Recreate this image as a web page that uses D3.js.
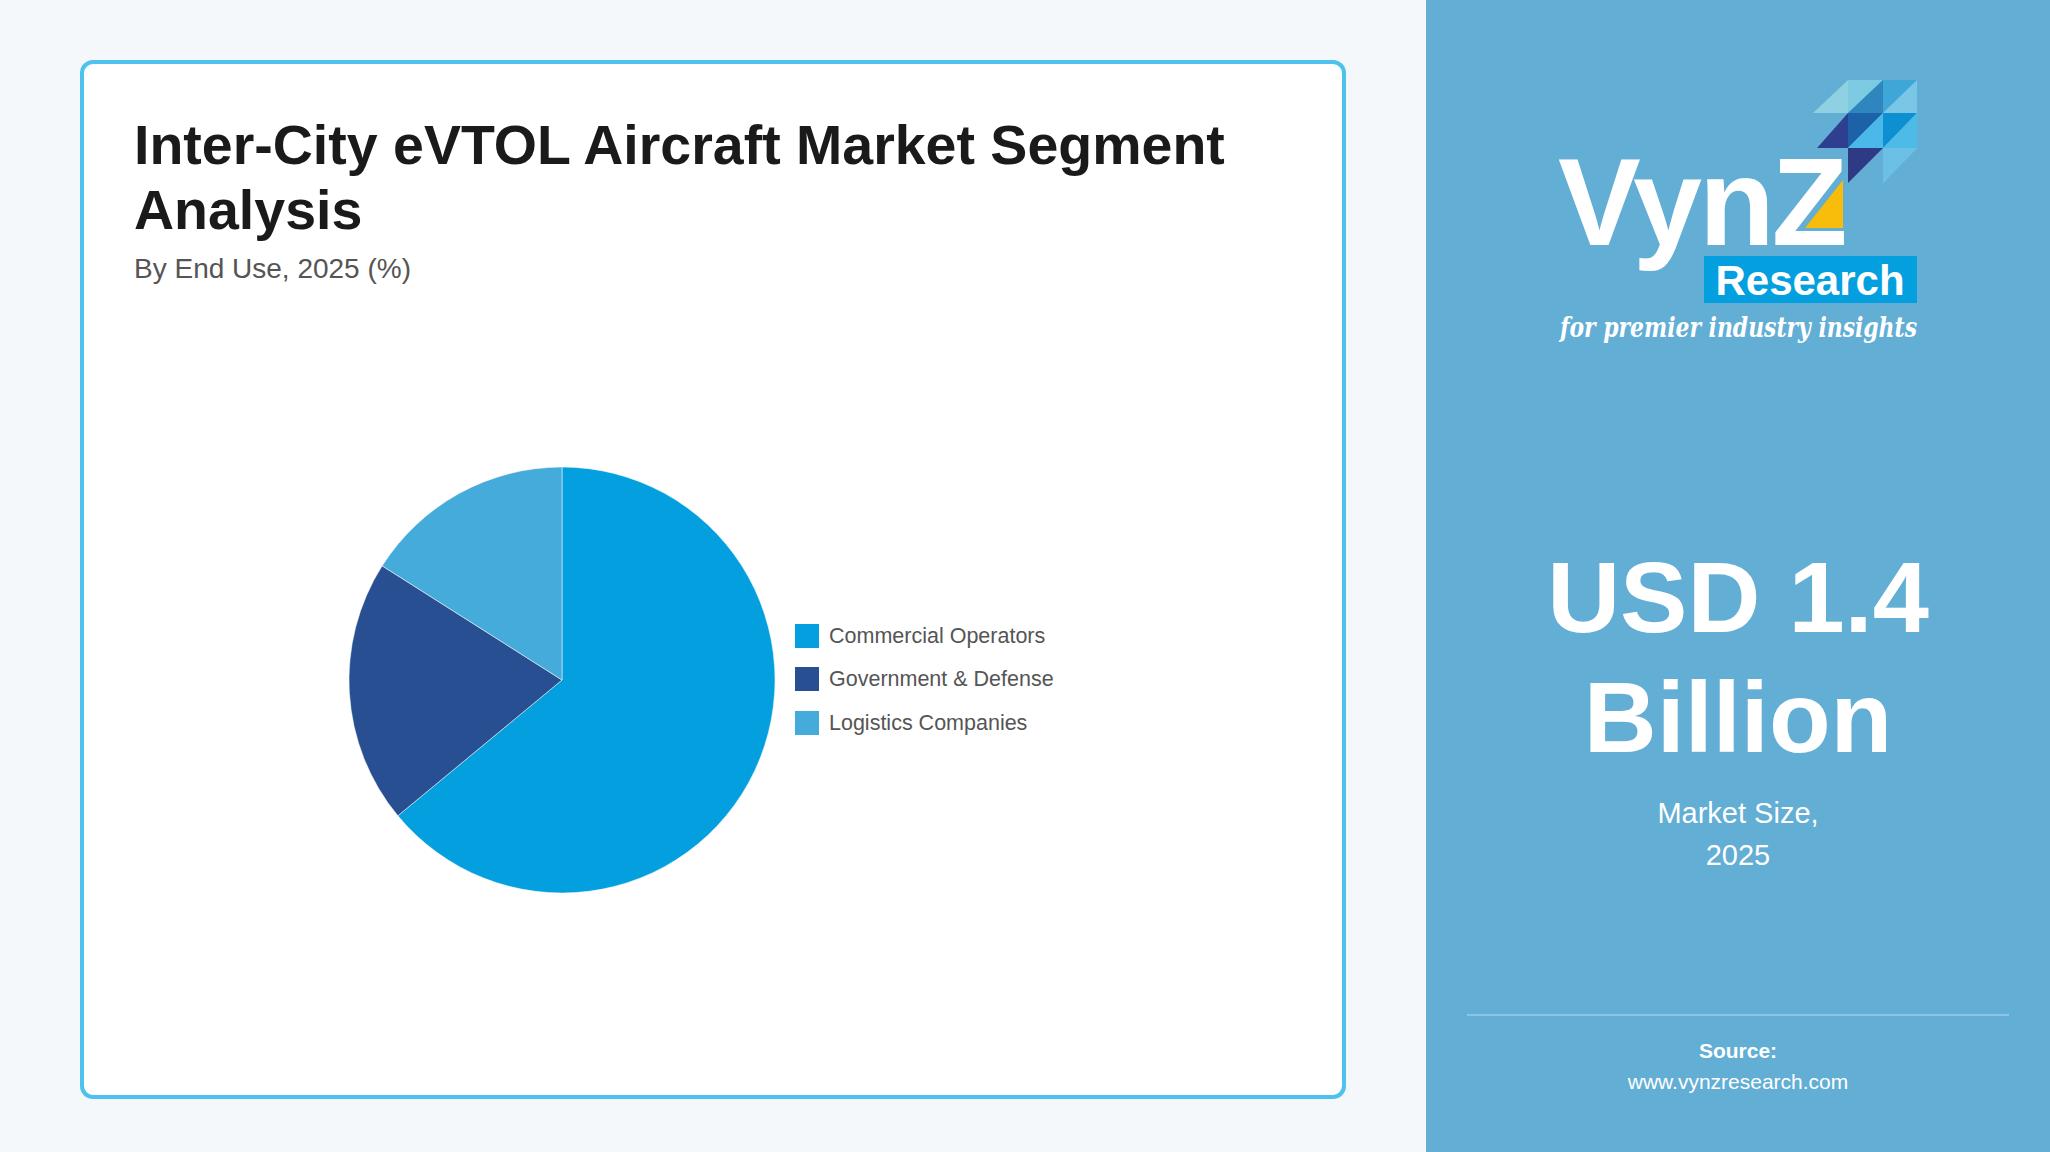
<!DOCTYPE html>
<html><head><meta charset="utf-8">
<script src="https://cdn.jsdelivr.net/npm/d3@7"></script>
<style>body{margin:0;background:#f4f8fb;font-family:Arial,"Liberation Sans",sans-serif}</style>
</head><body>
<svg id="c" width="2050" height="1152"></svg>
<script>
const categories = ["Commercial Operators","Government & Defense","Logistics Companies"];
const values = [64, 20, 16];
const colors = ["#039fdf","#284f91","#45abda"];

const svg = d3.select("#c");
svg.append("rect").attr("width",2050).attr("height",1152).attr("fill","#f4f8fb");
svg.append("rect").attr("x",82).attr("y",62).attr("width",1262).attr("height",1035).attr("rx",11)
  .attr("fill","#fff").attr("stroke","#4fc1ef").attr("stroke-width",4);
svg.append("text").attr("x",134).attr("y",164).attr("font-size",55.5).attr("font-weight","bold").attr("fill","#1a1a1a").text("Inter-City eVTOL Aircraft Market Segment");
svg.append("text").attr("x",134).attr("y",229).attr("font-size",55.5).attr("font-weight","bold").attr("fill","#1a1a1a").text("Analysis");
svg.append("text").attr("x",134).attr("y",278).attr("font-size",28).attr("fill","#555").text("By End Use, 2025 (%)");

const pie = d3.pie().sort(null)(values);
const arc = d3.arc().innerRadius(0).outerRadius(213);
const g = svg.append("g").attr("transform","translate(562,680)");
g.selectAll("path").data(pie).join("path").attr("d",arc).attr("fill",(d,i)=>colors[i]).attr("stroke","#fff").attr("stroke-width",0.5);

const leg = svg.append("g");
categories.forEach((c,i)=>{
  const y=[636,679,723][i];
  leg.append("rect").attr("x",795).attr("y",y-12).attr("width",24).attr("height",24).attr("fill",colors[i]);
  leg.append("text").attr("x",829).attr("y",y+7).attr("font-size",21.5).attr("fill","#555").text(c);
});

// right panel
svg.append("rect").attr("x",1426).attr("y",0).attr("width",624).attr("height",1152).attr("fill","#62aed4");
const tri=[
 [[1813,113],[1848,80],[1848,113],"#8fd0e2"],
 [[1848,80],[1883,80],[1848,113],"#7ccbe3"],
 [[1848,113],[1883,80],[1883,113],"#2f85be"],
 [[1883,80],[1917,80],[1883,113],"#3fa6d8"],
 [[1883,113],[1917,80],[1917,113],"#79c6e6"],
 [[1817,148],[1848,113],[1848,148],"#2e3f90"],
 [[1848,113],[1883,113],[1848,148],"#1c62a8"],
 [[1883,113],[1917,113],[1883,148],"#0e8fd2"],
 [[1848,148],[1883,113],[1883,148],"#4ab8e8"],
 [[1883,148],[1917,113],[1917,148],"#4cbbe8"],
 [[1848,148],[1883,148],[1848,183],"#2f3a85"],
 [[1883,148],[1917,148],[1883,183],"#7ccbec"],
 [[1917,148],[1883,183],[1883,148],"#6cc0e6"]
];
tri.forEach(t=>svg.append("path").attr("d",`M${t[0]}L${t[1]}L${t[2]}Z`).attr("fill",t[3]));
svg.append("text").attr("x",1558).attr("y",245).attr("font-size",124).attr("font-weight","bold").attr("fill","#fff").attr("letter-spacing",-3).text("VynZ");
svg.append("path").attr("d","M1805,228L1843,180L1843,228Z").attr("fill","#f8bd0b");
svg.append("rect").attr("x",1704).attr("y",256).attr("width",213).attr("height",47).attr("fill","#039fdf");
svg.append("text").attr("x",1810).attr("y",295).attr("text-anchor","middle").attr("font-size",42).attr("font-weight","bold").attr("fill","#fff").text("Research");
svg.append("text").attr("x",1560).attr("y",337).attr("font-size",27).attr("font-style","italic").attr("font-weight","bold").attr("font-family","DejaVu Serif, serif").attr("fill","#fff").attr("textLength",357).attr("lengthAdjust","spacingAndGlyphs").text("for premier industry insights");

svg.append("text").attr("x",1738).attr("y",632).attr("text-anchor","middle").attr("font-size",101).attr("font-weight","bold").attr("fill","#fff").text("USD 1.4");
svg.append("text").attr("x",1738).attr("y",752).attr("text-anchor","middle").attr("font-size",101).attr("font-weight","bold").attr("fill","#fff").text("Billion");
svg.append("text").attr("x",1738).attr("y",823).attr("text-anchor","middle").attr("font-size",29).attr("fill","#fff").text("Market Size,");
svg.append("text").attr("x",1738).attr("y",865).attr("text-anchor","middle").attr("font-size",29).attr("fill","#fff").text("2025");
svg.append("line").attr("x1",1467).attr("x2",2009).attr("y1",1015).attr("y2",1015).attr("stroke","#8cc4e2").attr("stroke-width",2);
svg.append("text").attr("x",1738).attr("y",1058).attr("text-anchor","middle").attr("font-size",21).attr("font-weight","bold").attr("fill","#fff").text("Source:");
svg.append("text").attr("x",1738).attr("y",1089).attr("text-anchor","middle").attr("font-size",21).attr("fill","#fff").text("www.vynzresearch.com");
</script></body></html>
